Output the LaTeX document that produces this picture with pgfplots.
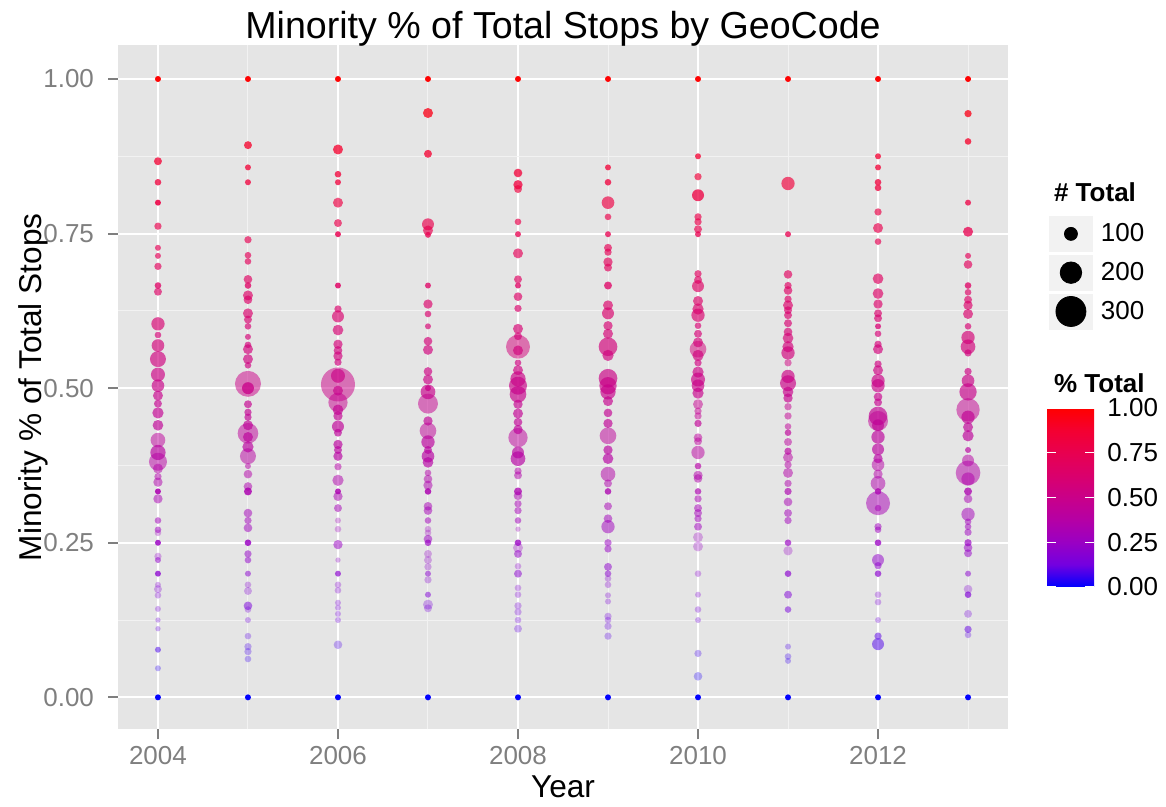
\documentclass[border=0pt]{standalone}
\usepackage{pgfplots}
\pgfplotsset{compat=1.18}
\usepackage{pgfplotstable}
\usepackage{fontspec}
\setmainfont{Liberation Sans}
\definecolor{panelgrey}{HTML}{E5E5E5}
\definecolor{minorgrid}{HTML}{F2F2F2}
\definecolor{tickgrey}{HTML}{7F7F7F}
\definecolor{keygrey}{HTML}{F2F2F2}

% columns: x = year, v = minority share, n = # total stops, w = overlapping observations
\pgfplotstableread{
x v n w
2004 1.000 18 12
2004 0.867 41 4
2004 0.833 25 4
2004 0.800 18 6
2004 0.762 33 3
2004 0.727 18 3
2004 0.714 18 3
2004 0.697 33 3
2004 0.666 25 4
2004 0.656 41 3
2004 0.604 104 3
2004 0.586 25 3
2004 0.569 96 3
2004 0.547 135 3
2004 0.522 112 3
2004 0.504 96 3
2004 0.488 65 3
2004 0.475 41 3
2004 0.460 80 3
2004 0.440 73 3
2004 0.416 120 2
2004 0.396 127 3
2004 0.381 159 2
2004 0.370 65 2
2004 0.357 33 2
2004 0.348 57 2
2004 0.333 18 6
2004 0.321 57 2
2004 0.286 25 2
2004 0.271 25 2
2004 0.266 25 1
2004 0.250 18 5
2004 0.228 33 1
2004 0.222 18 2
2004 0.200 18 4
2004 0.182 18 1
2004 0.175 41 1
2004 0.165 25 1
2004 0.143 18 1
2004 0.125 10 1
2004 0.111 10 1
2004 0.077 18 2
2004 0.047 18 1
2004 0.000 18 12
}\tabA
\pgfplotstableread{
x v n w
2005 1.000 18 12
2005 0.893 41 4
2005 0.857 18 4
2005 0.833 18 4
2005 0.740 33 3
2005 0.715 25 3
2005 0.705 25 3
2005 0.676 49 3
2005 0.666 25 4
2005 0.650 65 3
2005 0.643 49 3
2005 0.621 65 3
2005 0.611 41 3
2005 0.600 25 3
2005 0.583 18 3
2005 0.570 25 3
2005 0.563 65 3
2005 0.547 65 3
2005 0.537 25 3
2005 0.507 253 2
2005 0.500 88 4
2005 0.474 41 3
2005 0.461 33 3
2005 0.453 33 3
2005 0.440 65 3
2005 0.427 190 2
2005 0.421 65 3
2005 0.405 80 3
2005 0.390 135 2
2005 0.374 18 2
2005 0.361 49 2
2005 0.341 49 2
2005 0.333 41 5
2005 0.298 49 2
2005 0.286 33 2
2005 0.274 49 2
2005 0.250 25 5
2005 0.232 33 2
2005 0.222 25 2
2005 0.200 18 2
2005 0.182 25 1
2005 0.172 41 1
2005 0.148 49 2
2005 0.142 25 1
2005 0.125 18 1
2005 0.099 25 1
2005 0.082 33 1
2005 0.074 33 1
2005 0.062 25 1
2005 0.000 18 12
}\tabB
\pgfplotstableread{
x v n w
2006 1.000 18 12
2006 0.886 65 4
2006 0.846 25 4
2006 0.833 18 4
2006 0.800 65 3
2006 0.767 41 3
2006 0.749 18 5
2006 0.666 18 5
2006 0.628 33 3
2006 0.616 88 3
2006 0.594 73 3
2006 0.571 57 3
2006 0.561 49 3
2006 0.552 57 3
2006 0.542 33 3
2006 0.520 112 3
2006 0.506 347 2
2006 0.496 65 3
2006 0.477 174 2
2006 0.465 73 3
2006 0.455 57 3
2006 0.438 88 3
2006 0.428 41 3
2006 0.409 57 3
2006 0.400 41 3
2006 0.390 57 3
2006 0.373 33 2
2006 0.351 80 2
2006 0.333 18 5
2006 0.325 57 2
2006 0.306 41 2
2006 0.286 18 1
2006 0.272 25 1
2006 0.247 57 2
2006 0.222 10 1
2006 0.200 18 3
2006 0.182 25 1
2006 0.173 25 1
2006 0.153 18 1
2006 0.145 18 1
2006 0.135 18 1
2006 0.125 18 1
2006 0.085 49 1
2006 0.000 18 12
}\tabC
\pgfplotstableread{
x v n w
2007 1.000 18 12
2007 0.945 65 4
2007 0.879 41 4
2007 0.765 88 3
2007 0.755 65 3
2007 0.748 18 4
2007 0.666 18 4
2007 0.636 57 3
2007 0.620 25 3
2007 0.600 18 3
2007 0.576 49 3
2007 0.562 65 3
2007 0.527 49 3
2007 0.514 65 3
2007 0.500 18 4
2007 0.494 120 3
2007 0.475 182 2
2007 0.447 57 3
2007 0.431 143 2
2007 0.413 104 3
2007 0.400 41 3
2007 0.390 96 3
2007 0.380 73 3
2007 0.363 25 2
2007 0.353 49 2
2007 0.343 57 2
2007 0.333 25 5
2007 0.309 49 2
2007 0.302 49 2
2007 0.286 25 2
2007 0.272 25 1
2007 0.266 25 1
2007 0.256 49 2
2007 0.250 25 3
2007 0.232 41 1
2007 0.222 41 1
2007 0.211 33 1
2007 0.200 18 2
2007 0.190 33 1
2007 0.166 18 2
2007 0.150 65 1
2007 0.144 41 1
2007 0.000 18 12
}\tabD
\pgfplotstableread{
x v n w
2008 1.000 18 12
2008 0.848 49 4
2008 0.829 57 4
2008 0.822 41 3
2008 0.769 25 3
2008 0.749 18 4
2008 0.718 65 3
2008 0.676 41 3
2008 0.666 18 4
2008 0.648 49 3
2008 0.629 33 3
2008 0.596 65 3
2008 0.584 41 3
2008 0.567 229 2
2008 0.561 65 3
2008 0.541 25 3
2008 0.529 65 3
2008 0.515 127 3
2008 0.504 159 3
2008 0.490 143 3
2008 0.474 57 3
2008 0.459 65 3
2008 0.445 49 3
2008 0.433 57 3
2008 0.420 174 2
2008 0.396 88 3
2008 0.386 120 3
2008 0.366 33 2
2008 0.359 41 2
2008 0.333 41 4
2008 0.326 49 2
2008 0.313 33 2
2008 0.302 33 2
2008 0.286 25 2
2008 0.272 10 1
2008 0.250 25 4
2008 0.242 65 1
2008 0.232 41 2
2008 0.212 25 1
2008 0.200 41 2
2008 0.177 25 1
2008 0.166 25 1
2008 0.148 33 1
2008 0.138 33 1
2008 0.125 25 1
2008 0.111 41 1
2008 0.000 18 12
}\tabE
\pgfplotstableread{
x v n w
2009 1.000 18 12
2009 0.857 18 4
2009 0.833 25 4
2009 0.800 96 3
2009 0.777 25 3
2009 0.749 18 4
2009 0.727 41 3
2009 0.720 33 3
2009 0.704 57 3
2009 0.695 41 3
2009 0.666 41 4
2009 0.634 65 3
2009 0.621 88 3
2009 0.601 57 3
2009 0.588 65 3
2009 0.567 167 3
2009 0.553 80 3
2009 0.516 167 3
2009 0.504 151 3
2009 0.494 127 3
2009 0.479 65 3
2009 0.460 49 3
2009 0.443 57 3
2009 0.423 143 2
2009 0.400 57 3
2009 0.386 73 3
2009 0.361 120 2
2009 0.346 41 2
2009 0.333 25 4
2009 0.309 41 2
2009 0.289 49 2
2009 0.276 104 2
2009 0.250 33 2
2009 0.240 33 2
2009 0.211 41 2
2009 0.200 25 2
2009 0.192 25 1
2009 0.182 25 1
2009 0.165 18 1
2009 0.155 18 1
2009 0.131 33 1
2009 0.125 25 1
2009 0.115 33 1
2009 0.099 33 1
2009 0.000 18 12
}\tabF
\pgfplotstableread{
x v n w
2010 1.000 18 12
2010 0.875 18 4
2010 0.842 33 3
2010 0.812 88 4
2010 0.777 33 3
2010 0.769 33 3
2010 0.757 41 3
2010 0.749 18 4
2010 0.685 33 3
2010 0.675 41 3
2010 0.665 88 3
2010 0.641 65 3
2010 0.628 80 3
2010 0.618 104 3
2010 0.601 25 3
2010 0.588 41 3
2010 0.574 65 3
2010 0.563 143 2
2010 0.553 80 3
2010 0.541 33 3
2010 0.526 80 3
2010 0.514 112 3
2010 0.504 96 3
2010 0.492 80 3
2010 0.474 65 2
2010 0.463 33 2
2010 0.455 33 2
2010 0.443 33 3
2010 0.420 49 2
2010 0.414 41 2
2010 0.396 104 2
2010 0.374 25 3
2010 0.359 57 2
2010 0.354 49 2
2010 0.333 25 3
2010 0.321 33 2
2010 0.306 41 2
2010 0.298 41 2
2010 0.289 33 2
2010 0.276 41 2
2010 0.259 65 1
2010 0.244 65 1
2010 0.200 25 1
2010 0.166 18 1
2010 0.142 25 1
2010 0.125 18 1
2010 0.071 33 1
2010 0.034 49 1
2010 0.000 18 12
}\tabG
\pgfplotstableread{
x v n w
2011 1.000 18 12
2011 0.831 104 3
2011 0.749 18 4
2011 0.684 49 3
2011 0.666 33 3
2011 0.658 49 3
2011 0.644 33 3
2011 0.634 65 3
2011 0.626 41 3
2011 0.618 41 3
2011 0.605 41 3
2011 0.591 49 3
2011 0.581 73 3
2011 0.567 80 3
2011 0.557 104 3
2011 0.541 33 2
2011 0.519 104 3
2011 0.508 135 3
2011 0.494 73 3
2011 0.484 57 3
2011 0.470 33 2
2011 0.455 33 2
2011 0.438 25 2
2011 0.428 25 3
2011 0.413 41 2
2011 0.398 33 3
2011 0.388 65 2
2011 0.376 33 2
2011 0.363 65 2
2011 0.346 33 2
2011 0.333 33 3
2011 0.316 49 2
2011 0.298 41 2
2011 0.286 33 2
2011 0.250 25 3
2011 0.237 57 1
2011 0.200 25 3
2011 0.166 41 2
2011 0.142 25 2
2011 0.082 18 1
2011 0.066 25 1
2011 0.059 18 1
2011 0.000 18 12
}\tabH
\pgfplotstableread{
x v n w
2012 1.000 18 12
2012 0.875 18 4
2012 0.857 18 4
2012 0.833 25 4
2012 0.824 25 4
2012 0.785 33 3
2012 0.759 65 3
2012 0.737 25 3
2012 0.677 73 3
2012 0.653 73 3
2012 0.636 57 3
2012 0.621 41 3
2012 0.613 41 3
2012 0.600 18 4
2012 0.588 25 3
2012 0.571 33 3
2012 0.563 65 3
2012 0.539 33 3
2012 0.529 65 3
2012 0.512 104 3
2012 0.504 104 3
2012 0.486 49 3
2012 0.477 41 3
2012 0.455 167 3
2012 0.447 182 2
2012 0.440 88 3
2012 0.421 104 3
2012 0.401 88 3
2012 0.386 57 3
2012 0.376 96 2
2012 0.361 57 2
2012 0.346 120 2
2012 0.333 25 4
2012 0.314 229 2
2012 0.306 25 2
2012 0.276 33 2
2012 0.271 25 2
2012 0.250 25 4
2012 0.222 88 2
2012 0.213 33 2
2012 0.200 25 3
2012 0.166 25 1
2012 0.154 25 1
2012 0.125 18 1
2012 0.099 33 2
2012 0.086 88 2
2012 0.000 18 12
}\tabI
\pgfplotstableread{
x v n w
2013 1.000 18 12
2013 0.944 33 4
2013 0.899 25 4
2013 0.800 18 4
2013 0.753 65 4
2013 0.714 18 3
2013 0.700 49 3
2013 0.666 25 4
2013 0.655 25 3
2013 0.643 41 3
2013 0.634 57 3
2013 0.620 65 3
2013 0.600 25 3
2013 0.582 104 3
2013 0.567 120 3
2013 0.557 33 3
2013 0.527 33 3
2013 0.512 96 3
2013 0.494 151 3
2013 0.465 222 2
2013 0.453 104 3
2013 0.437 65 3
2013 0.423 80 3
2013 0.400 18 3
2013 0.383 88 2
2013 0.363 237 2
2013 0.353 104 2
2013 0.333 41 4
2013 0.321 49 2
2013 0.296 104 2
2013 0.284 25 2
2013 0.276 25 2
2013 0.267 33 2
2013 0.250 33 3
2013 0.242 49 2
2013 0.233 41 2
2013 0.200 18 2
2013 0.175 49 1
2013 0.166 25 3
2013 0.135 41 1
2013 0.110 33 2
2013 0.101 25 1
2013 0.000 18 12
}\tabJ

\pgfplotsset{
  colormap={bluered}{rgb255=(0,0,255) rgb255=(115,0,224) rgb255=(154,0,195) rgb255=(181,0,165) rgb255=(201,0,137) rgb255=(218,0,108) rgb255=(232,0,80) rgb255=(244,0,49) rgb255=(255,0,0)},
  bubble/.style={scatter, only marks, mark=*, forget plot,
    point meta=\thisrow{v},
    visualization depends on={1.125+0.02125*\thisrow{n} \as \msize},
    visualization depends on={1-0.7^(\thisrow{w}) \as \mop},
    scatter/@pre marker code/.append style={/tikz/mark size=\msize},
    scatter/@pre marker code/.append code={\pgfsetfillopacity{\mop}\pgfsetstrokeopacity{0}}},
}

\begin{document}
\begin{tikzpicture}
\useasboundingbox (-59pt,-38.75pt) rectangle (524pt,364.75pt);
\begin{axis}[
  at={(0,0)}, anchor=south west,
  scale only axis, width=445pt, height=342.25pt,
  xmin=2003.556, xmax=2013.444, ymin=-0.052, ymax=1.055,
  axis background/.style={fill=panelgrey},
  axis line style={draw=none},
  xtick={2004,2006,2008,2010,2012}, minor xtick={2005,2007,2009,2011,2013},
  ytick={0,0.25,0.5,0.75,1}, minor ytick={0.125,0.375,0.625,0.875},
  grid=both,
  major grid style={white, line width=1pt},
  minor grid style={minorgrid, line width=0.5pt},
  tick align=outside, tick pos=left,
  major tick length=5pt, minor tick length=0pt,
  tick style={tickgrey, line width=1pt},
  ticklabel style={font=\fontsize{13}{15}\selectfont, text=tickgrey},
  /pgf/number format/assume math mode=true,
  xticklabel style={/pgf/number format/1000 sep={}},
  yticklabel style={xshift=-3.5pt, /pgf/number format/fixed, /pgf/number format/fixed zerofill, /pgf/number format/precision=2},
  point meta min=0, point meta max=1,
  colormap name=bluered,
  colorbar,
  colorbar/width=23.5pt,
  colorbar shift/.style={xshift=0pt},
  colorbar style={
    at={(parent axis.south west)}, anchor=south west,
    xshift=464.5pt, yshift=71.25pt,
    scale only axis, width=23.5pt, height=89.5pt,
    axis line style={draw=none},
    ytick={0,0.25,0.5,0.75,1},
    ytick pos=both, yticklabel pos=right,
    tick align=inside, major tick length=4.5pt,
    ytick style={draw=white, line width=0.6pt},
    yticklabel style={font=\fontsize{13}{15}\selectfont, text=black, inner sep=0pt, xshift=6.5pt,
      /pgf/number format/fixed, /pgf/number format/fixed zerofill, /pgf/number format/precision=2,
      /pgf/number format/assume math mode=true},
  },
  legend style={at={(axis description cs:1.0461,0.7502)}, anchor=north west,
    draw=none, fill=none, inner sep=0pt, outer sep=0pt, row sep=1.5pt,
    font=\fontsize{13}{15}\selectfont, nodes={inner sep=0pt},
    /tikz/every odd column/.append style={column sep=4pt}},
  legend cell align=left,
]
\addlegendimage{legend image code/.code={\fill[keygrey] (0pt,-8.75pt) rectangle (21.5pt,8.75pt); \fill[black] (10.75pt,0pt) circle (3.25pt);}}
\addlegendentry{100}
\addlegendimage{legend image code/.code={\fill[keygrey] (0pt,-8.75pt) rectangle (21.5pt,8.75pt); \fill[black] (10.75pt,0pt) circle (5.375pt);}}
\addlegendentry{200}
\addlegendimage{legend image code/.code={\fill[keygrey] (0pt,-8.75pt) rectangle (21.5pt,8.75pt); \fill[black] (10.75pt,0pt) circle (7.5pt);}}
\addlegendentry{300}
\addplot[bubble] table[x=x, y=v] {\tabA};
\addplot[bubble] table[x=x, y=v] {\tabB};
\addplot[bubble] table[x=x, y=v] {\tabC};
\addplot[bubble] table[x=x, y=v] {\tabD};
\addplot[bubble] table[x=x, y=v] {\tabE};
\addplot[bubble] table[x=x, y=v] {\tabF};
\addplot[bubble] table[x=x, y=v] {\tabG};
\addplot[bubble] table[x=x, y=v] {\tabH};
\addplot[bubble] table[x=x, y=v] {\tabI};
\addplot[bubble] table[x=x, y=v] {\tabJ};
\end{axis}
\node[anchor=base, font=\fontsize{18.8}{22}\selectfont] at (222.5pt,345.25pt) {Minority \% of Total Stops by GeoCode};
\node[anchor=base, font=\fontsize{15.8}{18}\selectfont] at (222.5pt,-34.25pt) {Year};
\node[rotate=90, font=\fontsize{15.8}{18}\selectfont] at (-42.5pt,171.1pt) {Minority \% of Total Stops};
\node[anchor=base west, font=\bfseries\fontsize{13}{15}\selectfont] at (464.5pt,263.75pt) {\# Total};
\node[anchor=base west, font=\bfseries\fontsize{13}{15}\selectfont] at (464.5pt,168.25pt) {\% Total};
\end{tikzpicture}
\end{document}
